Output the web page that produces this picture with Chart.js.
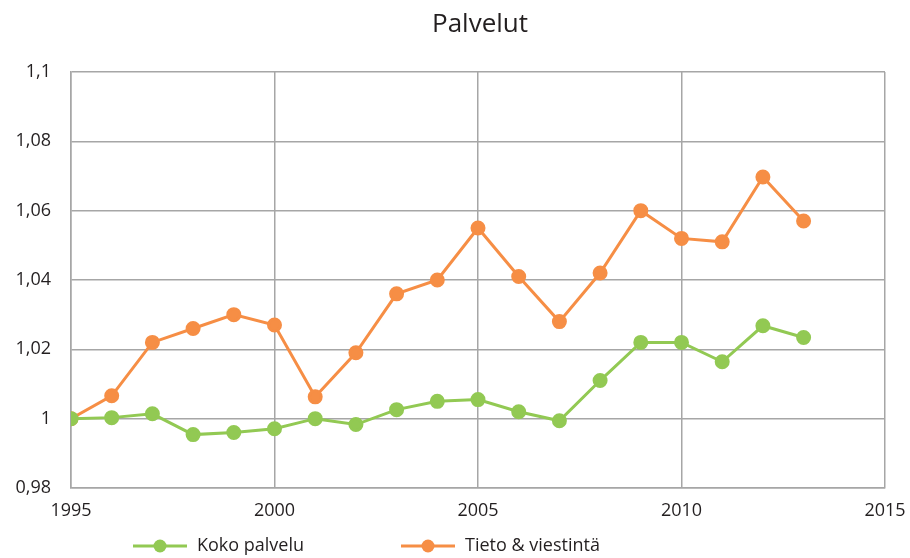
<!DOCTYPE html>
<html>
<head>
<meta charset="utf-8">
<script src="https://cdn.jsdelivr.net/npm/chart.js@4"></script>
<style>
  html, body { margin: 0; padding: 0; background: #fff; }
  #wrap { width: 910px; height: 558px; }
</style>
</head>
<body>
<div id="wrap"><canvas id="myChart" width="910" height="558"></canvas></div>
<script>
// vuodet ja sarjat
var years = [1995, 1996, 1997, 1998, 1999, 2000, 2001, 2002, 2003, 2004,
             2005, 2006, 2007, 2008, 2009, 2010, 2011, 2012, 2013];
var kokoPalvelu = [1.000, 1.0003, 1.0014, 0.9954, 0.996, 0.9971, 1.000, 0.9983, 1.0026, 1.005,
                   1.0055, 1.002, 0.9994, 1.011, 1.022, 1.022, 1.0164, 1.0268, 1.0234];
var tietoViestinta = [1.000, 1.0066, 1.022, 1.026, 1.030, 1.027, 1.0063, 1.019, 1.036, 1.040,
                      1.055, 1.041, 1.028, 1.042, 1.060, 1.052, 1.051, 1.0697, 1.057];
var seriesNames = ['Koko palvelu', 'Tieto & viestintä'];
var seriesColors = ['#92c953', '#f68e45'];
var chartTitle = 'Palvelut';

var FONT = '"Open Sans", "Noto Sans", sans-serif';

function toPoints(vals) {
    var out = [];
    for (var i = 0; i < vals.length; i++) {
        out.push({ x: years[i], y: vals[i] });
    }
    return out;
}

// otsikko + oma selite (viiva + pallo)
var titleAndLegend = {
    id: 'titleAndLegend',
    afterDraw: function(chart) {
        var c = chart.ctx;
        c.save();
        c.fillStyle = '#231f20';
        c.font = '26px ' + FONT;
        c.textAlign = 'center';
        c.textBaseline = 'middle';
        c.fillText(chartTitle, 480, 25);

        var y = 546;
        var starts = [133, 401];
        chart.data.datasets.forEach(function(ds, i) {
            var x = starts[i];
            c.strokeStyle = ds.borderColor;
            c.lineWidth = 3;
            c.beginPath();
            c.moveTo(x, y);
            c.lineTo(x + 54, y);
            c.stroke();
            c.fillStyle = ds.borderColor;
            c.beginPath();
            c.arc(x + 27, y, 6.5, 0, Math.PI * 2);
            c.fill();
            c.fillStyle = '#231f20';
            c.font = '18px ' + FONT;
            c.textBaseline = 'middle';
            c.textAlign = 'left';
            c.fillText(ds.label, x + 64, y);
        });
        c.restore();
    }
};

var ctx = document.getElementById('myChart').getContext('2d');
var myChart = new Chart(ctx, {
    type: 'line',
    data: {
        datasets: [
            {
                label: seriesNames[0],
                data: toPoints(kokoPalvelu),
                borderColor: seriesColors[0],
                backgroundColor: seriesColors[0],
                borderWidth: 3,
                pointRadius: 6,
                pointHoverRadius: 6,
                tension: 0
            },
            {
                label: seriesNames[1],
                data: toPoints(tietoViestinta),
                borderColor: seriesColors[1],
                backgroundColor: seriesColors[1],
                borderWidth: 3,
                pointRadius: 6,
                pointHoverRadius: 6,
                tension: 0
            }
        ]
    },
    options: {
        responsive: false,
        animation: false,
        layout: { padding: { left: 0, right: 25, bottom: 30, top: 72 } },
        plugins: {
            legend: { display: false },
            tooltip: { enabled: false },
            title: { display: false }
        },
        scales: {
            x: {
                type: 'linear',
                min: 1995,
                max: 2015,
                ticks: {
                    stepSize: 5,
                    color: '#231f20',
                    font: { family: FONT, size: 18 },
                    padding: 12,
                    callback: function(v) { return String(v); }
                },
                grid: { color: '#a6a6a6', lineWidth: 1.5, drawTicks: false },
                border: { color: '#a6a6a6', width: 1.5 },
                afterFit: function(s) {
                    s.height = 40;
                    s.paddingLeft = 0;
                    s.paddingRight = 0;
                }
            },
            y: {
                min: 0.98,
                max: 1.1,
                ticks: {
                    stepSize: 0.02,
                    color: '#231f20',
                    font: { family: FONT, size: 18 },
                    padding: 20,
                    callback: function(v) {
                        return String(+v.toFixed(2)).replace('.', ',');
                    }
                },
                grid: { color: '#a6a6a6', lineWidth: 1.5, drawTicks: false },
                border: { color: '#a6a6a6', width: 1.5 },
                afterFit: function(s) {
                    s.width = 71;
                    s.paddingTop = 0;
                    s.paddingBottom = 0;
                }
            }
        }
    },
    plugins: [titleAndLegend]
});
</script>
</body>
</html>
